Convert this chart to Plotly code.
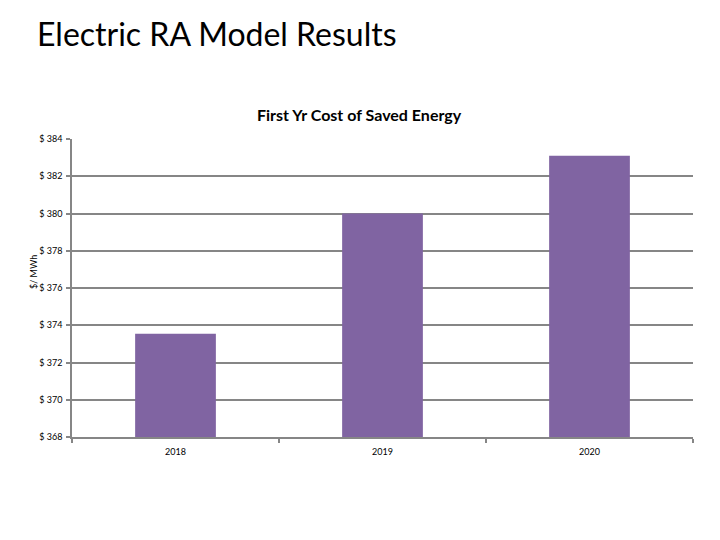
import plotly.graph_objects as go

years = ["2018", "2019", "2020"]
cost_per_mwh = [373.55, 380.0, 383.1]
y_min = 368
y_ticks = [368, 370, 372, 374, 376, 378, 380, 382, 384]
y_tick_labels = ["$ 368", "$ 370", "$ 372", "$ 374", "$ 376", "$ 378", "$ 380", "$ 382", "$ 384"]

FONT = "Lato, Carlito, Calibri, sans-serif"
GRID = "#868686"

# page has an 8px body margin: the figure is sized to fit inside the window
W, H = 712, 532
OFF = 8
PL, PR, PT, PB = 72, 693, 139, 437  # plot area in page pixels
l = PL - OFF
t = PT - OFF
r = W - (PR - OFF)
b = H - (PB - OFF)
pw = PR - PL
ph = PB - PT

fig = go.Figure(
    go.Bar(
        x=years,
        y=[v - y_min for v in cost_per_mwh],
        base=y_min,
        marker=dict(color="#8064A2", line=dict(width=0)),
    )
)

fig.update_layout(
    width=W,
    height=H,
    paper_bgcolor="white",
    plot_bgcolor="white",
    margin=dict(l=l, r=r, t=t, b=b, autoexpand=False),
    bargap=0.61,
    showlegend=False,
    font=dict(family=FONT, color="#000000"),
    title=dict(
        text="Electric RA Model Results",
        xref="container", yref="container",
        x=(37 - OFF) / W, xanchor="left",
        y=1 - (35 - OFF) / H, yanchor="middle",
        font=dict(family=FONT, size=32, color="#000000"),
    ),
    annotations=[
        dict(
            text="<b>First Yr Cost of Saved Energy</b>",
            xref="paper", yref="paper",
            x=(359 - PL) / pw, y=(PB - 115) / ph,
            xanchor="center", yanchor="middle",
            showarrow=False,
            font=dict(family=FONT, size=16, color="#000000"),
        ),
        dict(
            text="$/ MWh",
            xref="paper", yref="paper",
            x=-(PL - 33) / pw, y=(PB - 272) / ph,
            xanchor="center", yanchor="middle",
            textangle=-90,
            showarrow=False,
            font=dict(family=FONT, size=9, color="#000000"),
        ),
    ],
)

fig.update_yaxes(
    range=[368, 384],
    tickvals=y_ticks,
    ticktext=y_tick_labels,
    showgrid=True,
    gridcolor=GRID,
    gridwidth=1.5,
    showline=True,
    linecolor=GRID,
    linewidth=1.5,
    ticks="outside",
    ticklen=4,
    tickcolor=GRID,
    tickwidth=1.5,
    tickfont=dict(family=FONT, size=9, color="#000000"),
    zeroline=False,
    ticklabelstandoff=2,
)
fig.update_xaxes(
    type="category",
    showgrid=False,
    showline=True,
    linecolor=GRID,
    linewidth=1.5,
    ticks="outside",
    tickson="boundaries",
    ticklen=4,
    tickcolor=GRID,
    tickwidth=1.5,
    ticklabelstandoff=5,
    tickfont=dict(family=FONT, size=9, color="#000000"),
)

fig.write_html("out.html")
